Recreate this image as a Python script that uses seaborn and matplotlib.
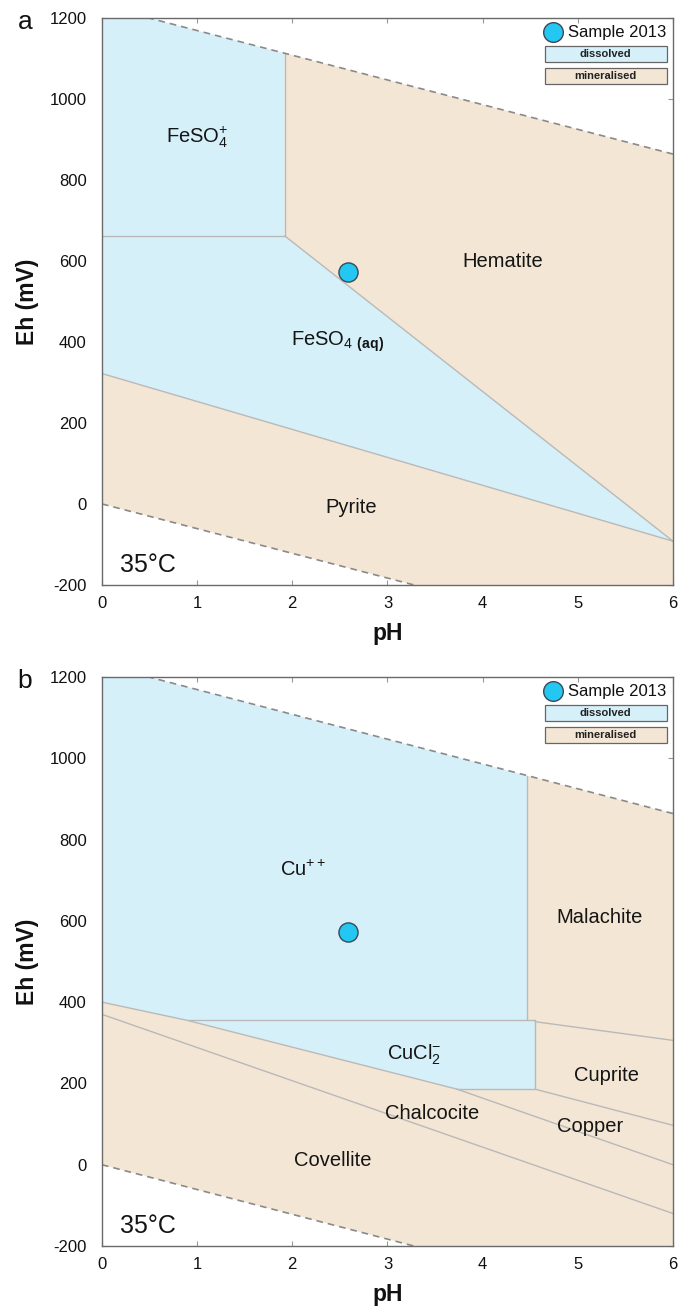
"""Eh-pH stability diagrams (Fe and Cu systems at 35 C) with the 2013 sample."""
import matplotlib
matplotlib.use('Agg')
import seaborn as sns
import numpy as np
import pandas as pd
from matplotlib import pyplot as plt
from matplotlib.patches import Rectangle

DPI = 100
FIGURE_SIZE = (6.78, 13.13)

BLUE = '#d6f0fa'
BEIGE = '#f3e6d4'
EDGE = '#b9b9b9'

# water stability limits (pH, Eh mV)
water_upper_ph = [0, 6]
water_upper_eh = [1230, 864]
water_lower_ph = [0, 6]
water_lower_eh = [0, -366]

# sample measurement
sample_ph = [2.58]
sample_eh = [573]

# ---- panel a: iron ----
fe_so4_plus = [(0, 662), (1.92, 662), (1.92, 1113), (0, 1230)]
fe_hematite = [(1.92, 662), (1.92, 1113), (6, 864), (6, -92)]
fe_so4_aq = [(0, 662), (1.92, 662), (6, -92), (0, 322)]
fe_pyrite = [(0, 322), (6, -92), (6, -366), (0, 0)]
fe_lines = [
    [(0, 662), (1.92, 662)],
    [(1.92, 662), (1.92, 1113)],
    [(1.92, 662), (6, -92)],
    [(0, 322), (6, -92)],
]
fe_labels = [
    (1.0, 905, r'FeSO$_4^{+}$'),
    (4.21, 598, 'Hematite'),
    (2.47, 400, r'FeSO$_4$$_{\ \mathbf{(aq)}}$'),
    (2.62, -10, 'Pyrite'),
]

# ---- panel b: copper ----
cu_plus2 = [(0, 1230), (4.47, 957), (4.47, 355), (0.9, 355), (0, 400)]
cu_cl2 = [(0.9, 355), (4.55, 355), (4.55, 186), (3.73, 186)]
cu_mineral = [(0, 400), (0.9, 355), (3.73, 186), (4.55, 186), (4.55, 352),
              (4.47, 355), (4.47, 957), (6, 864), (6, -366), (0, 0)]
cu_lines = [
    [(4.47, 957), (4.47, 355)],
    [(0.9, 355), (4.55, 355)],
    [(4.55, 355), (4.55, 186)],
    [(3.73, 186), (4.55, 186)],
    [(0, 400), (0.9, 355), (3.73, 186)],
    [(4.55, 352), (6, 306)],
    [(4.55, 186), (6, 97)],
    [(3.73, 186), (6, 0)],
    [(0, 370), (6, -120)],
]
cu_labels = [
    (2.11, 725, r'Cu$^{++}$'),
    (5.23, 609, 'Malachite'),
    (3.28, 270, r'CuCl$_2^{-}$'),
    (5.30, 220, 'Cuprite'),
    (3.47, 126, 'Chalcocite'),
    (5.13, 94, 'Copper'),
    (2.42, 10, 'Covellite'),
]

xticks = [0, 1, 2, 3, 4, 5, 6]
yticks = [-200, 0, 200, 400, 600, 800, 1000, 1200]


def fill_region(ax, verts, color):
    xs, ys = zip(*verts)
    ax.fill(xs, ys, color=color, lw=0, zorder=1)


def draw_panel(ax, blue_regions, beige_regions, lines, labels, letter):
    for verts in blue_regions:
        fill_region(ax, verts, BLUE)
    for verts in beige_regions:
        fill_region(ax, verts, BEIGE)
    for seg in lines:
        xs, ys = zip(*seg)
        ax.plot(xs, ys, color=EDGE, lw=1, zorder=2)

    # water limits
    for wx, wy in ((water_upper_ph, water_upper_eh),
                   (water_lower_ph, water_lower_eh)):
        sns.lineplot(x=wx, y=wy, ax=ax, color='#8a8a8a', lw=1.2,
                     linestyle=(0, (4, 3)), zorder=3)

    for x, y, txt in labels:
        ax.text(x, y, txt, ha='center', va='center', fontsize=14.5,
                color='#151515', zorder=4)

    ax.text(0.48, -150, '35°C', ha='center', va='center', fontsize=18,
            color='#151515', zorder=4)

    df = pd.DataFrame({'pH': sample_ph, 'Eh': sample_eh})
    sns.scatterplot(data=df, x='pH', y='Eh', ax=ax, s=190, color='#24c6f2',
                    edgecolor='#3a4a55', linewidth=1, zorder=5)

    ax.set(xlim=(0, 6), ylim=(-200, 1200), xticks=xticks, yticks=yticks,
           xlabel='', ylabel='')
    ax.set_xticklabels(xticks)
    ax.set_yticklabels(yticks)
    ax.tick_params(direction='in', top=True, right=True, length=3.6,
                   width=0.8, color='#999999', labelsize=12,
                   labelcolor='#111111')
    ax.tick_params(axis='x', pad=8)
    ax.tick_params(axis='y', pad=11)
    for spine in ax.spines.values():
        spine.set_color('#6a6a6a')
        spine.set_linewidth(1)
        spine.set_zorder(6)

    ax.text(0.5, -0.085, 'pH', transform=ax.transAxes, ha='center',
            va='center', fontsize=16.5, fontweight='bold', color='#111111')
    ax.text(-0.13, 0.5, 'Eh (mV)', transform=ax.transAxes, ha='center',
            va='center', rotation=90, fontsize=16.5, fontweight='bold',
            color='#111111')
    ax.text(-0.135, 0.993, letter, transform=ax.transAxes, ha='center',
            va='center', fontsize=19, color='#111111')

    # legend
    ax.scatter([0.790], [0.975], s=200, color='#24c6f2', edgecolor='#3a4a55',
               lw=1, transform=ax.transAxes, zorder=7, clip_on=False)
    ax.text(0.816, 0.975, 'Sample 2013', transform=ax.transAxes,
            ha='left', va='center', fontsize=12, color='#111111', zorder=7)
    for ybot, col, txt in ((0.922, BLUE, 'dissolved'),
                           (0.884, BEIGE, 'mineralised')):
        ax.add_patch(Rectangle((0.775, ybot), 0.2137, 0.0285,
                               transform=ax.transAxes, facecolor=col,
                               edgecolor='#666666', lw=0.9, zorder=7))
        ax.text(0.775 + 0.2137 / 2, ybot + 0.0285 / 2, txt,
                transform=ax.transAxes, ha='center', va='center',
                fontsize=8, fontweight='bold', color='#222222', zorder=8)


sns.set_style('ticks')
plt.rcParams['font.family'] = ['Liberation Sans', 'DejaVu Sans']
plt.rcParams['mathtext.fontset'] = 'custom'
plt.rcParams['mathtext.rm'] = 'Liberation Sans'
plt.rcParams['mathtext.bf'] = 'Liberation Sans:bold'

fig = plt.figure(figsize=FIGURE_SIZE, dpi=DPI)
ax_a = fig.add_axes([0.1504, 0.5545, 0.8422, 0.4318])
ax_b = fig.add_axes([0.1504, 0.0510, 0.8422, 0.4334])

draw_panel(ax_a, [fe_so4_plus, fe_so4_aq], [fe_hematite, fe_pyrite],
           fe_lines, fe_labels, 'a')
draw_panel(ax_b, [cu_plus2, cu_cl2], [cu_mineral], cu_lines, cu_labels, 'b')

fig.savefig('out.png', dpi=DPI)
